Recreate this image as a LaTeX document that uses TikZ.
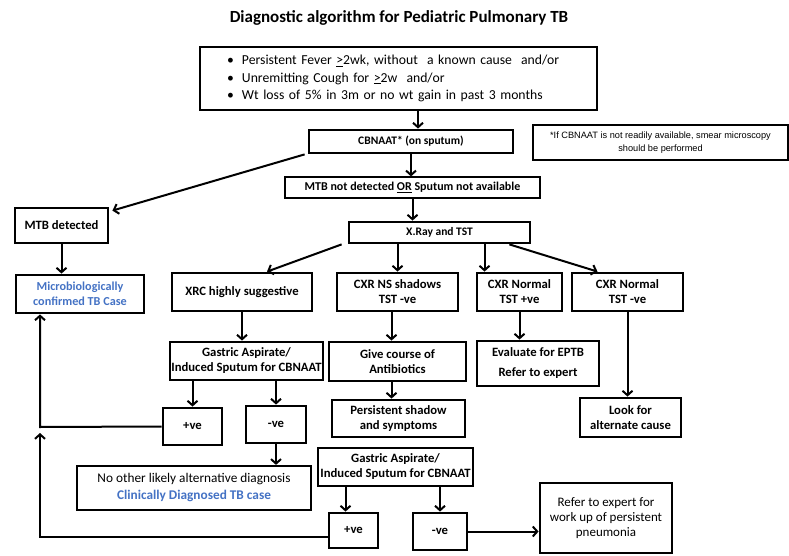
\documentclass[tikz,border=0pt]{standalone}
\usepackage{fontspec}
\setmainfont{Carlito}
\newfontfamily\notefont{Liberation Sans}
\usetikzlibrary{arrows.meta}
\definecolor{caseblue}{RGB}{68, 114, 196}
\tikzset{
  tbbox/.style={rectangle, draw=black, line width=2.8pt, align=center, inner sep=0pt,
    font=\fontsize{12.7}{15}\selectfont\bfseries},
  tbthin/.style={tbbox, line width=1.2pt},
  tbflow/.style={line width=2pt, -{Straight Barb[length=4.5pt,width=10pt]}},
  tbline/.style={line width=2pt}
}

\begin{document}
\begin{tikzpicture}[x=1pt, y=-1pt]
  \useasboundingbox (0,0) rectangle (789,556);

  \node (title) at (399,18) {\fontsize{17}{19}\selectfont\bfseries Diagnostic algorithm for Pediatric Pulmonary TB};

  \node[
    tbbox,
    minimum width=397pt,
    minimum height=63pt,
    text width=343pt,
    align=left,
    font=\fontsize{13.7}{17.5}\selectfont
  ] (symptoms) at (398.5,78.5) {%
    \makebox[15pt][l]{\textbullet}Persistent Fever \underline{>}2wk, without\ \ a known cause\ \ and/or\\
    \makebox[15pt][l]{\textbullet}Unremitting Cough for \underline{>}2w\ \ and/or\\
    \makebox[15pt][l]{\textbullet}Wt loss of 5\% in 3m or no wt gain in past 3 months};

  \node[tbbox, minimum width=204pt, minimum height=23pt, font=\fontsize{11.5}{13}\selectfont\bfseries]
    (cbnaat) at (411,141.5) {CBNAAT* (on sputum)};
  \node[tbbox, minimum width=255pt, minimum height=35pt, font=\notefont\fontsize{9.2}{12.5}\selectfont]
    (note) at (660.5,142.5) {*If CBNAAT is not readily available, smear microscopy\\ should be performed};
  \node[tbthin, minimum width=255pt, minimum height=21pt, font=\fontsize{12}{14}\selectfont\bfseries]
    (notdet) at (412.5,187.5) {MTB not detected \underline{OR} Sputum not available};
  \node[tbbox, minimum width=181pt, minimum height=21pt, font=\fontsize{11.5}{13}\selectfont\bfseries]
    (xray) at (439.5,232.5) {X.Ray and TST};

  \node[tbbox, minimum width=93pt, minimum height=35pt] (mtbdet) at (61.5,225.5) {MTB detected};
  \node[tbbox, minimum width=128pt, minimum height=38pt, text=caseblue,
    font=\fontsize{12.2}{14.5}\selectfont\bfseries]
    (micro) at (80,294) {Microbiologically\\ confirmed TB Case};

  \node[tbbox, minimum width=140pt, minimum height=38pt] (xrc) at (242,292) {XRC highly suggestive};
  \node[tbbox, minimum width=121pt, minimum height=38pt] (cxrns) at (397.5,292) {CXR NS shadows\\ TST -ve};
  \node[tbbox, minimum width=85pt, minimum height=38pt] (cxrpos) at (519.5,292) {CXR Normal\\ TST +ve};
  \node[tbbox, minimum width=111pt, minimum height=38pt] (cxrneg) at (627.5,292) {CXR Normal\\ TST -ve};

  \node[tbbox, minimum width=153pt, minimum height=38pt] (gastric) at (246.5,361) {Gastric Aspirate/\\ Induced Sputum for CBNAAT};
  \node[tbbox, minimum width=137pt, minimum height=39pt] (antib) at (397.5,361.5) {Give course of\\ Antibiotics};
  \node[tbbox, minimum width=122pt, minimum height=45pt, font=\fontsize{12.7}{20}\selectfont\bfseries]
    (eval) at (538,363.5) {Evaluate for EPTB\\ Refer to expert};
  \node[tbbox, minimum width=133pt, minimum height=37pt] (persist) at (398.5,418.5) {Persistent shadow\\ and symptoms};
  \node[tbbox, minimum width=101pt, minimum height=39pt] (look) at (630.5,417.5) {Look for\\ alternate cause};

  \node[tbbox, minimum width=59pt, minimum height=37pt] (gpos) at (192.5,426.5) {+ve};
  \node[tbbox, minimum width=60pt, minimum height=37pt] (gneg) at (276,424.5) {-ve};
  \node[tbbox, line width=2.2pt, minimum width=234pt, minimum height=44pt, font=\fontsize{13.3}{17}\selectfont]
    (clinical) at (194,488) {No other likely alternative diagnosis\\ \textcolor{caseblue}{\bfseries Clinically Diagnosed TB case}};
  \node[tbbox, line width=2.2pt, minimum width=155pt, minimum height=38pt] (regastric) at (395.5,467) {Gastric Aspirate/\\ Induced Sputum for CBNAAT};
  \node[tbbox, minimum width=49pt, minimum height=35pt] (rpos) at (353.5,530.5) {+ve};
  \node[tbbox, minimum width=54pt, minimum height=37pt] (rneg) at (440,531.5) {-ve};
  \node[tbbox, minimum width=132pt, minimum height=70pt, font=\fontsize{13}{15}\selectfont]
    (refer) at (606,518) {Refer to expert for\\ work up of persistent\\ pneumonia};

  \coordinate (join) at (40,427);
  \coordinate (joinlow) at (40,433);

  \draw[tbflow] ([xshift=7pt]cbnaat.north |- symptoms.south) -- ([xshift=7pt]cbnaat.north);
  \draw[tbflow] (cbnaat.south) -- (cbnaat.south |- notdet.north);
  \draw[tbflow] ([xshift=-3pt]cbnaat.south west) -- ([xshift=3pt,yshift=-4pt]mtbdet.north east);
  \draw[tbflow] (notdet.south) -- (notdet.south |- xray.north);
  \draw[tbflow] (mtbdet.south) -- (mtbdet.south |- micro.north);
  \draw[tbflow] ([xshift=-6pt]xray.south west) -- ([xshift=25pt]xrc.north);
  \draw[tbflow] (cxrns.north |- xray.south) -- (cxrns.north);
  \draw[tbflow] ([xshift=-35pt]cxrpos.north |- xray.south) -- ([xshift=-35pt]cxrpos.north);
  \draw[tbflow] ([xshift=-22pt]xray.south east) -- ([xshift=-30pt]cxrneg.north);
  \draw[tbflow] (xrc.south) -- (xrc.south |- gastric.north);
  \draw[tbflow] ([xshift=-6pt]cxrns.south) -- ([xshift=-6pt]cxrns.south |- antib.north);
  \draw[tbflow] (cxrpos.south) -- (cxrpos.south |- eval.north);
  \draw[tbflow] (cxrneg.south) -- (cxrneg.south |- look.north);
  \draw[tbflow] ([xshift=-6pt]antib.south) -- ([xshift=-6pt]antib.south |- persist.north);
  \draw[tbflow] (gpos.north |- gastric.south) -- (gpos.north);
  \draw[tbflow] (gneg.north |- gastric.south) -- (gneg.north);
  \draw[tbflow] (gneg.south) -- (gneg.south |- clinical.north);
  \draw[tbflow] (gpos.west) -- (join) -- (join |- micro.south);
  \draw[tbflow] ([yshift=-6.5pt]rpos.west) -| (joinlow);
  \draw[tbflow] ([xshift=-8pt]rpos.north |- regastric.south) -- ([xshift=-8pt]rpos.north);
  \draw[tbflow] (rneg.north |- regastric.south) -- (rneg.north);
  \draw[tbflow] (rneg.east) -- (rneg.east -| refer.west);
\end{tikzpicture}
\end{document}
